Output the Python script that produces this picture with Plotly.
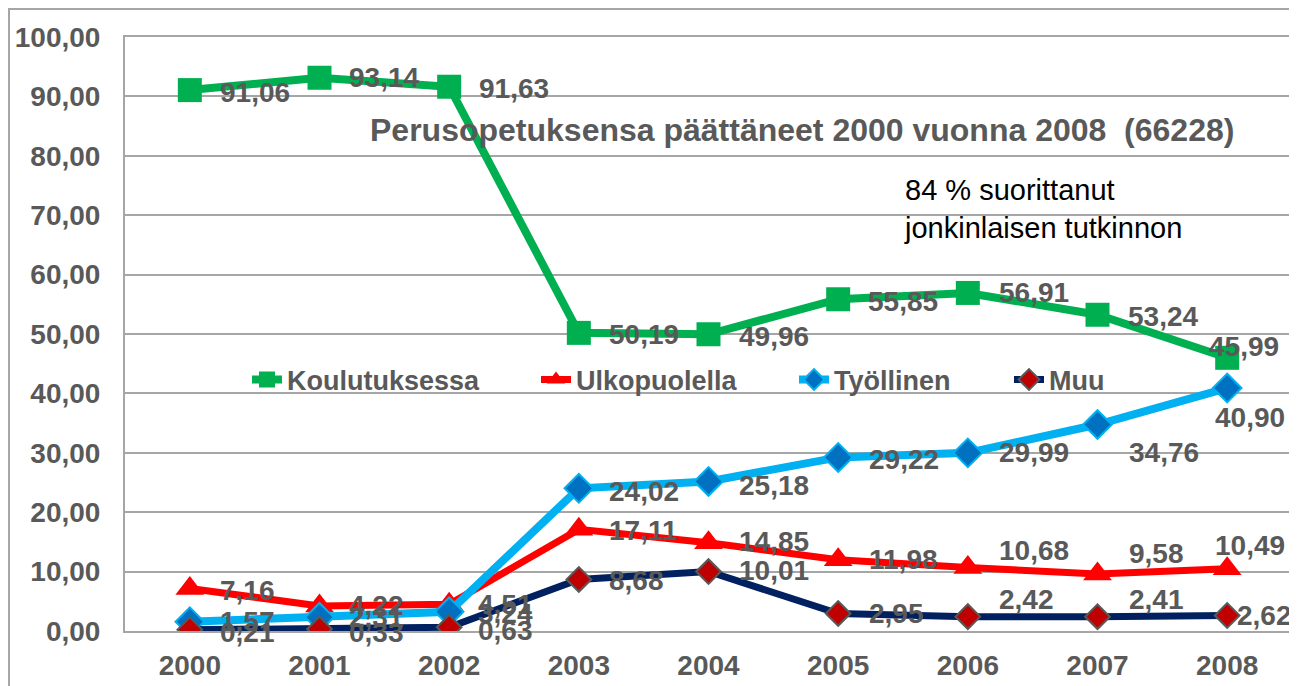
import plotly.graph_objects as go

years = [2000, 2001, 2002, 2003, 2004, 2005, 2006, 2007, 2008]
koulutuksessa = [91.06, 93.14, 91.63, 50.19, 49.96, 55.85, 56.91, 53.24, 45.99]
ulkopuolella = [7.16, 4.22, 4.51, 17.11, 14.85, 11.98, 10.68, 9.58, 10.49]
tyollinen = [1.57, 2.31, 3.24, 24.02, 25.18, 29.22, 29.99, 34.76, 40.90]
muu = [0.21, 0.33, 0.63, 8.68, 10.01, 2.95, 2.42, 2.41, 2.62]
y_ticks = [0, 10, 20, 30, 40, 50, 60, 70, 80, 90, 100]
series_names = ["Koulutuksessa", "Ulkopuolella", "Työllinen", "Muu"]

title_text = "Perusopetuksensa päättäneet 2000 vuonna 2008  (66228)"
note_text = "84 % suorittanut<br>jonkinlaisen tutkinnon"


def fmt(v):
    return f"{v:.2f}".replace(".", ",")


GRAY = "#595959"
FONT = "Liberation Sans, Arial, sans-serif"
label_font = dict(family=FONT, size=28, color=GRAY, weight="bold")

# label placement styles (anchor, x shift px, y shift px) per point
R = ("left", 28, -2)
label_styles = {
    "Koulutuksessa": [R, ("left", 27, 0), R, R, R, R, ("left", 29, 0), R, ("center", 17, 11)],
    "Ulkopuolella": [R, ("left", 27, 0), ("left", 27, 0), ("left", 28, -1), ("left", 28, 1),
                     ("left", 29, 0), ("left", 29, 17), ("left", 29, 21), ("center", 23, 23)],
    "Työllinen": [("left", 28, 0), ("left", 27, 0), ("left", 27, -2), ("left", 28, -3),
                  ("left", 28, -4), ("left", 29, -2), ("left", 29, 0), ("left", 29, -28),
                  ("center", 23, -29)],
    "Muu": [("left", 28, -3), ("left", 27, -3), ("left", 27, -3), ("left", 28, -1), ("left", 28, 1),
            ("left", 29, 0), ("left", 29, 17), ("left", 29, 17), ("left", 8, 0)],
}

# page is rendered with an 8px body margin; figure sized to fit the window
OFF = 8
W, H = 1297 - OFF, 686 - OFF
PLOT_L, PLOT_R, PLOT_T, PLOT_B = 125, 1292, 37, 631  # target page pixels
ML, MR, MT, MB = PLOT_L - OFF, W - (PLOT_R - OFF), PLOT_T - OFF, H - (PLOT_B - OFF)
PW, PH = PLOT_R - PLOT_L, PLOT_B - PLOT_T


def px(x):
    return (x - PLOT_L) / PW


def py(y):
    return (PLOT_B - y) / PH


fig = go.Figure()
fig.add_trace(go.Scatter(
    x=years, y=koulutuksessa, name=series_names[0], mode="lines+markers",
    line=dict(color="#00B050", width=8),
    marker=dict(symbol="square", size=24, color="#00B050"),
    legend="legend",
))
fig.add_trace(go.Scatter(
    x=years, y=ulkopuolella, name=series_names[1], mode="lines+markers",
    line=dict(color="#FF0000", width=7),
    marker=dict(symbol="triangle-up", size=25, color="#FF0000"),
    legend="legend2",
))
fig.add_trace(go.Scatter(
    x=years, y=tyollinen, name=series_names[2], mode="lines+markers",
    line=dict(color="#00B0F0", width=8),
    marker=dict(symbol="diamond", size=22, color="#0070C0", line=dict(color="#00B0F0", width=2)),
    legend="legend3",
))
fig.add_trace(go.Scatter(
    x=years, y=muu, name=series_names[3], mode="lines+markers",
    line=dict(color="#002060", width=7),
    marker=dict(symbol="diamond", size=19, color="#C00000", line=dict(color="#595959", width=2)),
    legend="legend4",
))

for name, vals in zip(series_names, [koulutuksessa, ulkopuolella, tyollinen, muu]):
    for yr, v, (anc, xs, ys) in zip(years, vals, label_styles[name]):
        fig.add_annotation(
            x=yr, y=v, xref="x", yref="y", text=fmt(v), showarrow=False,
            xanchor=anc, yanchor="middle", xshift=xs, yshift=ys, font=label_font,
        )

legend_font = dict(family=FONT, size=27, color=GRAY, weight="bold")
legend_text_x = [288, 577, 835, 1050]
legend_common = dict(yanchor="middle", xanchor="left", font=legend_font,
                     bgcolor="rgba(0,0,0,0)", itemwidth=30)
legend_y = py(380)

fig.update_layout(
    width=W, height=H,
    margin=dict(l=ML, r=MR, t=MT, b=MB, autoexpand=False),
    paper_bgcolor="white", plot_bgcolor="white",
    showlegend=True,
    legend=dict(x=px(legend_text_x[0] - 41), y=legend_y, **legend_common),
    legend2=dict(x=px(legend_text_x[1] - 41), y=legend_y, **legend_common),
    legend3=dict(x=px(legend_text_x[2] - 41), y=legend_y, **legend_common),
    legend4=dict(x=px(legend_text_x[3] - 41), y=legend_y, **legend_common),
    font=dict(family=FONT),
)
fig.update_xaxes(
    range=[1999.5, 2008.5], tickvals=years, ticktext=[str(y) for y in years],
    showgrid=False, showline=True, linecolor="#A6A6A6", linewidth=2,
    mirror=True, ticks="", tickfont=dict(family=FONT, size=28, color=GRAY, weight="bold"),
    ticklabelstandoff=8, zeroline=False, automargin=False,
)
fig.update_yaxes(
    range=[0, 100], tickvals=y_ticks, ticktext=[fmt(v) for v in y_ticks],
    showgrid=True, gridcolor="#A6A6A6", gridwidth=2, zeroline=False,
    showline=True, linecolor="#A6A6A6", linewidth=2, mirror=True, ticks="",
    tickfont=dict(family=FONT, size=28, color=GRAY, weight="bold"),
    ticklabelstandoff=17, automargin=False,
)
fig.add_annotation(
    text=title_text, xref="paper", yref="paper", x=px(802), y=py(130),
    xanchor="center", yanchor="middle",
    showarrow=False, font=dict(family=FONT, size=32, color=GRAY, weight="bold"),
)
fig.add_annotation(
    text=note_text, xref="paper", yref="paper", x=px(902), y=py(209),
    xanchor="left", yanchor="middle",
    align="left", showarrow=False, font=dict(family=FONT, size=29, color="#000000"),
)
# outer chart border
fig.add_shape(
    type="rect", xref="paper", yref="paper",
    x0=px(OFF + 1), x1=1.0, y0=-0.3, y1=py(OFF + 1),
    line=dict(color="#A6A6A6", width=2), fillcolor="rgba(0,0,0,0)", layer="above",
)

fig.write_html("out.html")
